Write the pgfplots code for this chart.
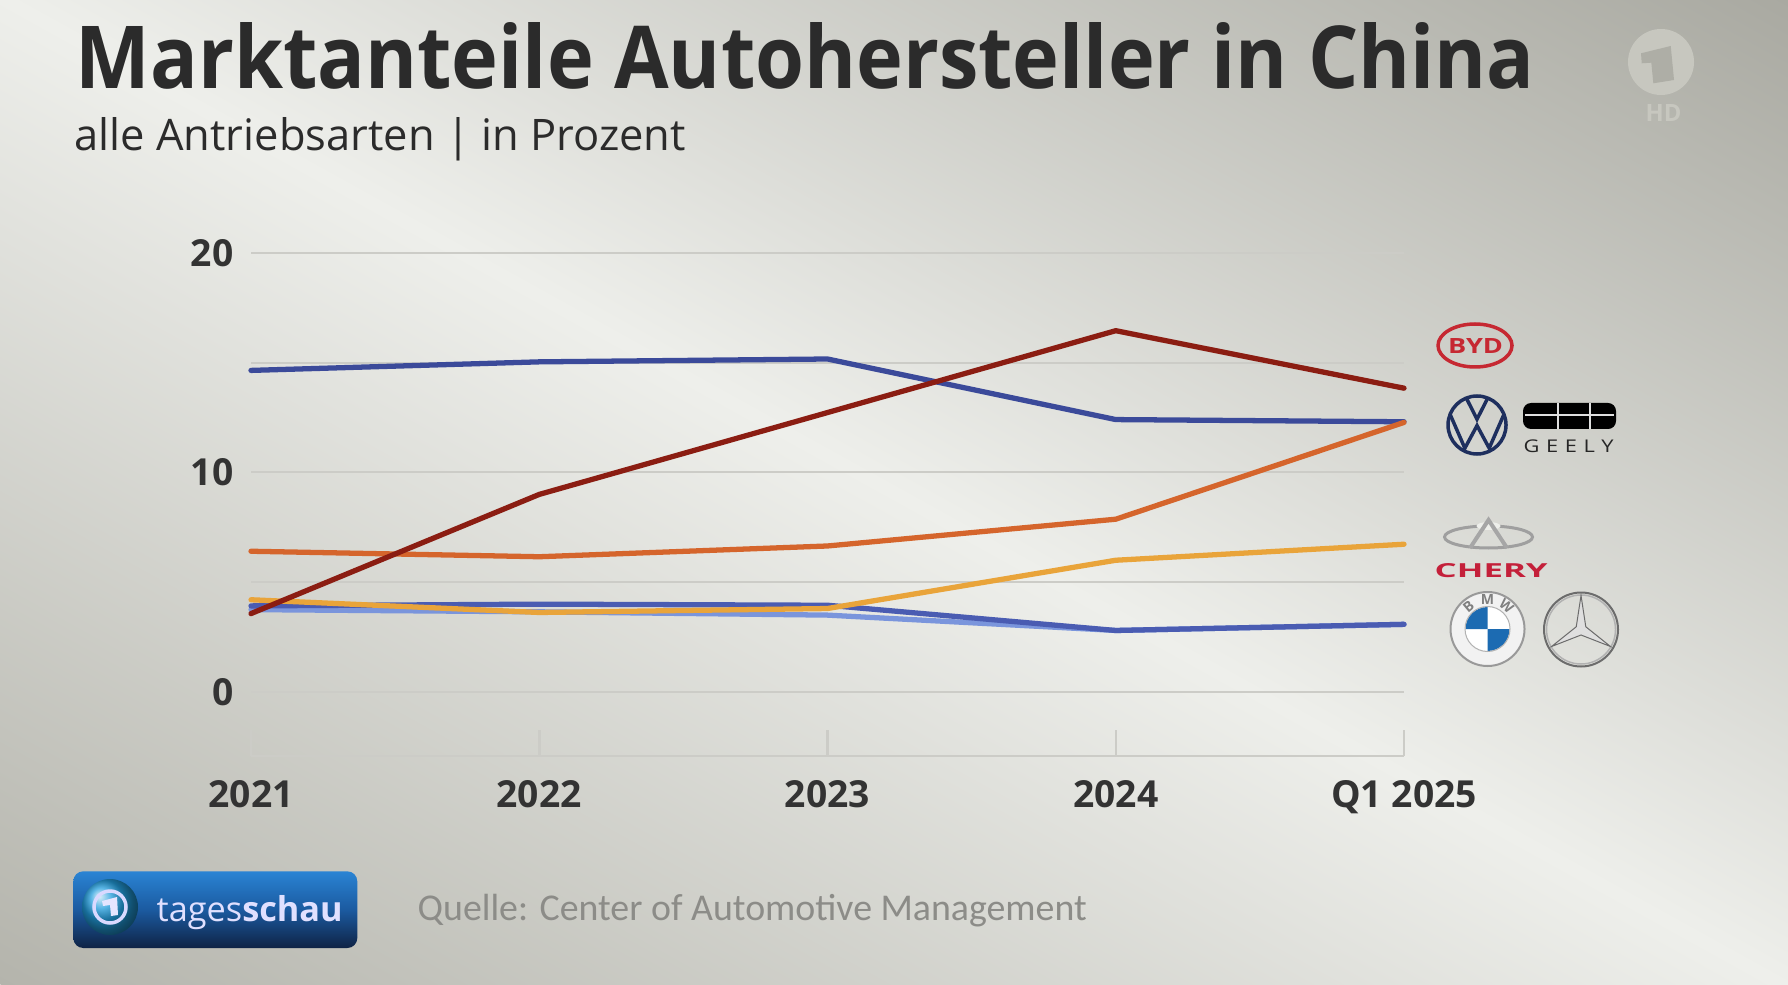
\documentclass[border=0pt]{standalone}
\usepackage{fontspec}
\setmainfont{Open Sans}
\newfontfamily\carlito{Carlito}
\usepackage{graphicx}
\usepackage{pgfplots}
\pgfplotsset{compat=1.18}
\definecolor{bgmid}{HTML}{EEEFEB}
\definecolor{bgcorner}{HTML}{A9A9A1}
\definecolor{bgcornerb}{HTML}{B4B4AC}
\definecolor{vw}{HTML}{3B4A9A}
\definecolor{byd}{HTML}{8B1D12}
\definecolor{geely}{HTML}{D5652C}
\definecolor{chery}{HTML}{E9A43A}
\definecolor{bmw}{HTML}{4A5CB2}
\definecolor{merc}{HTML}{7A95DC}
\definecolor{gridc}{HTML}{CCCCC7}
\definecolor{tickc}{HTML}{333333}
\definecolor{titlec}{HTML}{2B2B2B}
\definecolor{srcc}{HTML}{8C8C88}
\definecolor{bydred}{HTML}{C62832}
\definecolor{cheryred}{HTML}{C4203A}
\definecolor{vwnavy}{HTML}{1E2F5E}
\definecolor{bmwblue}{HTML}{1C6BB2}
\definecolor{ardlight}{HTML}{C7C7BF}
\definecolor{ardbg}{HTML}{AEAEA6}
\definecolor{tsTop}{HTML}{2A84D4}
\definecolor{tsMid}{HTML}{1B5AA0}
\definecolor{tsBot}{HTML}{0F2345}
\begin{document}
\begin{tikzpicture}[x=1cm,y=1cm]
% background
\begin{scope}
\clip (0,0) rectangle (17.88,9.84);
\begin{scope}[transform canvas={rotate around={-29:(8.94,4.92)}}]
\shade[top color=bgcorner, bottom color=bgcornerb, middle color=bgmid] (-2.06,-3.72) rectangle (19.94,13.56);
\end{scope}
\end{scope}

% title and subtitle
\node[anchor=base west, inner sep=0, text=titlec] at (0.75,8.95) {\resizebox{14.59cm}{0.66cm}{\bfseries Marktanteile Autohersteller in China}};
\node[anchor=base west, inner sep=0, text=titlec] at (0.74,8.33) {\resizebox{6.11cm}{!}{alle Antriebsarten | in Prozent}};

\begin{axis}[
  at={(2.51cm,2.28cm)}, anchor=south west,
  scale only axis, width=11.53cm, height=5.03cm,
  xmin=0, xmax=4, ymin=-2.92, ymax=20,
  clip=false,
  axis x line=bottom, axis y line=left,
  axis line style={-},
  x axis line style={draw=gridc, line width=0.025cm},
  y axis line style={draw=none},
  xtick={0,1,2,3,4},
  xticklabels={2021,2022,2023,2024,Q1 2025},
  tick align=inside,
  major tick length=0.26cm,
  x tick style={draw=gridc, line width=0.025cm},
  ytick={0,5,10,15,20},
  yticklabels={0,,10,,20},
  y tick style={draw=none},
  ymajorgrids,
  grid style={draw=gridc, line width=0.02cm},
  tick label style={font=\bfseries\fontsize{10.6}{12}\selectfont, text=tickc},
  yticklabel style={anchor=east, inner sep=0pt, xshift=-0.17cm},
  xticklabel style={anchor=north, inner sep=0pt, yshift=-0.24cm},
  every axis plot/.append style={line width=1.5pt, line cap=round, line join=round, mark=none},
]
\addplot[merc] coordinates {(0,3.75)(1,3.65)(2,3.5)(3,2.8)(4,3.08)};
\addplot[bmw] coordinates {(0,3.92)(1,4.0)(2,3.95)(3,2.8)(4,3.08)};
\addplot[vw] coordinates {(0,14.65)(1,15.04)(2,15.17)(3,12.41)(4,12.31)};
\addplot[chery] coordinates {(0,4.2)(1,3.62)(2,3.8)(3,6.0)(4,6.73)};
\addplot[geely] coordinates {(0,6.41)(1,6.16)(2,6.65)(3,7.87)(4,12.28)};
\addplot[byd] coordinates {(0,3.57)(1,9.0)(2,12.73)(3,16.46)(4,13.84)};
\end{axis}

% ---- brand logos ----
% BYD
\draw[bydred, line width=0.035cm] (14.75,6.385) ellipse (0.37 and 0.215);
\node[anchor=base, inner sep=0, text=bydred] at (14.755,6.31) {\resizebox{0.55cm}{0.15cm}{\bfseries BYD}};
% VW
\begin{scope}[shift={(14.77,5.59)}, scale=0.29]
\draw[vwnavy, line width=0.035cm] (0,0) circle (1);
\draw[vwnavy, line width=0.035cm, line join=miter] (-0.37,0.93) -- (0,0.2) -- (0.37,0.93);
\draw[vwnavy, line width=0.035cm, line join=miter] (-0.93,0.37) -- (-0.42,-0.8) -- (0,-0.02) -- (0.42,-0.8) -- (0.93,0.37);
\end{scope}
% Geely
\fill[black, rounded corners=0.08cm] (15.23,5.55) rectangle (16.16,5.81);
\draw[white!75!gray, line width=0.012cm] (15.58,5.55) -- (15.58,5.81) (15.90,5.55) -- (15.90,5.81) (15.25,5.69) -- (16.14,5.69);
\node[anchor=base west, inner sep=0, text=black!85] at (15.23,5.313) {\resizebox{0.90cm}{0.127cm}{G\hspace{0.3em}E\hspace{0.3em}E\hspace{0.3em}L\hspace{0.3em}Y}};
% Chery
\draw[gray!75, line width=0.03cm] (14.885,4.47) ellipse (0.44 and 0.11);
\fill[bgmid] (14.885,4.58) ellipse (0.12 and 0.04);
\draw[gray!70, line width=0.04cm] (14.70,4.36) -- (14.885,4.64) -- (15.07,4.36);
\node[anchor=base west, inner sep=0, text=cheryred] at (14.34,4.07) {\resizebox{1.13cm}{0.14cm}{\bfseries CHERY}};
% BMW
\begin{scope}[shift={(14.875,3.55)}]
\fill[white!90!gray] (0,0) circle (0.37);
\draw[gray!80, line width=0.02cm] (0,0) circle (0.37);
\fill[white] (0,0) circle (0.22);
\fill[bmwblue] (0,0) -- (0,0.22) arc (90:180:0.22) -- cycle;
\fill[bmwblue] (0,0) -- (0,-0.22) arc (270:360:0.22) -- cycle;
\draw[gray!60, line width=0.01cm] (0,0) circle (0.225);
\node[text=gray, inner sep=0, rotate=40, font=\bfseries\fontsize{4}{4}\selectfont] at (130:0.295) {B};
\node[text=gray, inner sep=0, font=\bfseries\fontsize{4}{4}\selectfont] at (90:0.295) {M};
\node[text=gray, inner sep=0, rotate=-40, font=\bfseries\fontsize{4}{4}\selectfont] at (50:0.295) {W};
\end{scope}
% Mercedes
\begin{scope}[shift={(15.81,3.545)}]
\draw[gray!85!black, line width=0.02cm] (0,0) circle (0.37);
\draw[gray!60, line width=0.015cm] (0,0) circle (0.345);
\fill[gray!25, draw=gray!85!black, line width=0.01cm] (90:0.34) -- (30:0.055) -- (330:0.34) -- (270:0.055) -- (210:0.34) -- (150:0.055) -- cycle;
\end{scope}

% ---- ARD logo ----
\fill[ardlight] (16.61,9.22) circle (0.33);
\fill[ardbg] (16.41,9.307) -- (16.707,9.38) -- (16.74,9.04) -- (16.533,9.007) -- (16.513,9.213) -- (16.417,9.207) -- cycle;
\node[anchor=center, inner sep=0, text=ardlight] at (16.635,8.705) {\resizebox{!}{0.17cm}{\bfseries HD}};

% ---- tagesschau box ----
\shade[top color=tsTop, bottom color=tsBot, middle color=tsMid, rounded corners=0.1cm] (0.733,0.36) rectangle (3.573,1.127);
\shade[ball color=tsTop!80!cyan] (1.10,0.77) circle (0.28);
\draw[white!85!blue, line width=0.035cm] (1.10,0.77) circle (0.16);
\fill[white!90!blue] (1.02,0.83) -- (1.17,0.87) -- (1.18,0.69) -- (1.11,0.68) -- (1.10,0.79) -- (1.03,0.78) -- cycle;
\node[anchor=base west, inner sep=0, text=white!88!blue] at (1.56,0.627) {\resizebox{1.86cm}{!}{tages\textbf{schau}}};

% source
\node[anchor=base west, inner sep=0, text=srcc] at (4.17,0.64) {\resizebox{6.69cm}{!}{\carlito Quelle: Center of Automotive Management}};

\pgfresetboundingbox
\useasboundingbox (0,0) rectangle (17.88,9.84);
\end{tikzpicture}
\end{document}
